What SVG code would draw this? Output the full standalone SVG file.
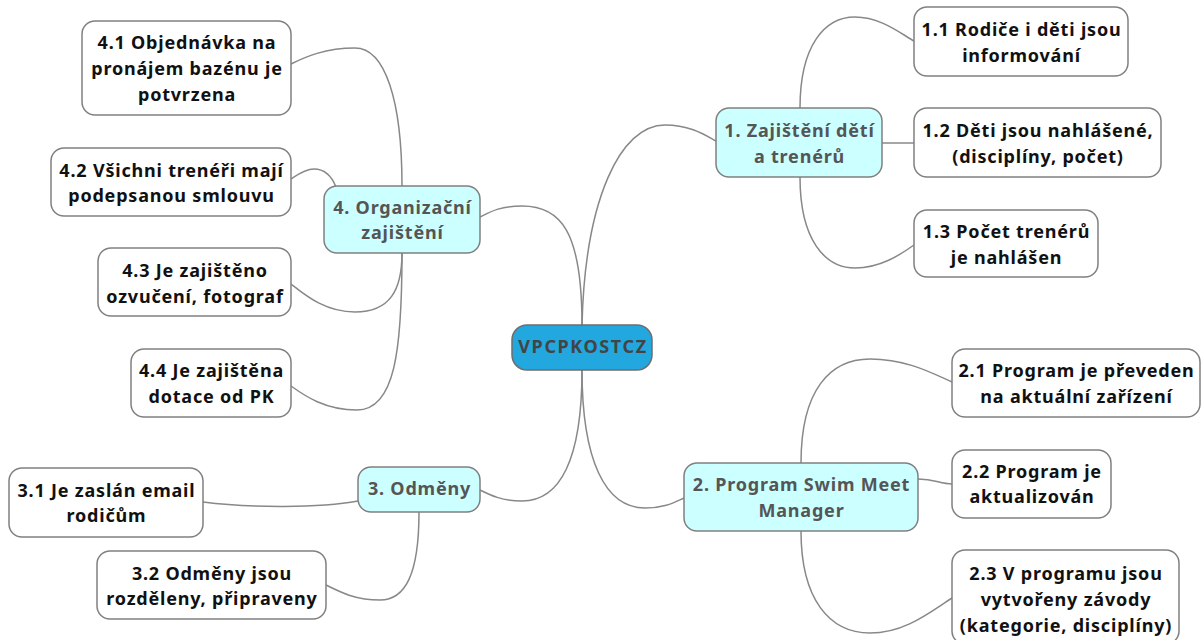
<svg xmlns="http://www.w3.org/2000/svg" width="1201" height="640" viewBox="0 0 1201 640">
<style>
.bg{fill:#ffffff}
.leaf rect{fill:#ffffff;stroke:#808080;stroke-width:1.5}
.branch rect{fill:#ccffff;stroke:#808080;stroke-width:1.5}
.root rect{fill:#22a7df;stroke:#6e6e6e;stroke-width:1.5}
text{font-family:"Noto Sans","Open Sans","DejaVu Sans",sans-serif;font-weight:bold;font-size:18px;letter-spacing:0.8px;text-anchor:middle}
.leaf text{fill:#111111}
.branch text{fill:#555555}
.root text{fill:#444444;letter-spacing:1.6px}
#connectors path{fill:none;stroke:#888888;stroke-width:1.5}
</style>
<rect class="bg" x="0" y="0" width="1201" height="640"/>
<g id="connectors">
<path d="M582,325 C582,230 560,206 522,206 C500,206 490,212 480,217"/>
<path d="M582,325 C585,200 620,125 665,125 C690,125 705,135 716,141"/>
<path d="M582,370 C582,460 560,501 522,501 C502,501 490,495 480,490"/>
<path d="M582,370 C582,460 605,508 645,508 C665,508 675,502 684,498"/>
<path d="M800,108 C800,45 825,17 855,17 C880,17 900,33 914,41"/>
<path d="M882,143 L914,143"/>
<path d="M800,177 C800,240 825,268 855,268 C880,268 900,255 914,245"/>
<path d="M801,463 C801,390 830,359 870,359 C905,359 930,372 952,382"/>
<path d="M918,479 C935,479 940,484 952,484"/>
<path d="M801,531 C801,600 830,633 870,633 C905,633 930,612 952,598"/>
<path d="M358,501 C320,508 250,508 203,502"/>
<path d="M419,512 C419,575 405,600 380,600 C355,600 340,592 326,585"/>
<path d="M402,186 C402,100 385,48 355,48 C325,48 305,57 291,64"/>
<path d="M336,187 C330,172 322,169 314,169 C305,169 297,175 291,179"/>
<path d="M402,253 C402,290 390,312 355,312 C325,312 305,295 291,284"/>
<path d="M402,253 C402,350 395,410 357,410 C325,410 305,396 291,386"/>
</g>
<g id="root" class="root"><rect x="512" y="325" width="140" height="45" rx="15"/><text x="583" y="353">VPCPKOSTCZ</text></g>
<g id="n1" class="branch"><rect x="716" y="108" width="166" height="69" rx="13"/><text x="799.5" y="137">1. Zajištění dětí</text><text x="799.5" y="163">a trenérů</text></g>
<g id="n11" class="leaf"><rect x="914" y="7" width="214" height="69" rx="13"/><text x="1021.5" y="36">1.1 Rodiče i děti jsou</text><text x="1021.5" y="62">informování</text></g>
<g id="n12" class="leaf"><rect x="914" y="108" width="247" height="69" rx="13"/><text x="1038" y="137">1.2 Děti jsou nahlášené,</text><text x="1038" y="163">(disciplíny, počet)</text></g>
<g id="n13" class="leaf"><rect x="914" y="210" width="184" height="67" rx="13"/><text x="1006.5" y="238">1.3 Počet trenérů</text><text x="1006.5" y="264">je nahlášen</text></g>
<g id="n2" class="branch"><rect x="684" y="463" width="234" height="68" rx="13"/><text x="801.5" y="491">2. Program Swim Meet</text><text x="801.5" y="517">Manager</text></g>
<g id="n21" class="leaf"><rect x="952" y="349" width="248" height="68" rx="13"/><text x="1076.5" y="377">2.1 Program je převeden</text><text x="1076.5" y="403">na aktuální zařízení</text></g>
<g id="n22" class="leaf"><rect x="952" y="450" width="159" height="68" rx="13"/><text x="1032" y="478">2.2 Program je</text><text x="1032" y="503">aktualizován</text></g>
<g id="n23" class="leaf"><rect x="952" y="550" width="227" height="94" rx="13"/><text x="1066" y="580">2.3 V programu jsou</text><text x="1066" y="606">vytvořeny závody</text><text x="1066" y="632">(kategorie, disciplíny)</text></g>
<g id="n3" class="branch"><rect x="358" y="467" width="122" height="45" rx="13"/><text x="419.5" y="495">3. Odměny</text></g>
<g id="n31" class="leaf"><rect x="9" y="468" width="194" height="69" rx="13"/><text x="106.5" y="497">3.1 Je zaslán email</text><text x="106.5" y="522">rodičům</text></g>
<g id="n32" class="leaf"><rect x="97" y="551" width="229" height="68" rx="13"/><text x="212" y="580">3.2 Odměny jsou</text><text x="212" y="605">rozděleny, připraveny</text></g>
<g id="n4" class="branch"><rect x="324" y="186" width="156" height="67" rx="13"/><text x="402.5" y="214">4. Organizační</text><text x="402.5" y="239">zajištění</text></g>
<g id="n41" class="leaf"><rect x="82" y="21" width="209" height="94" rx="13"/><text x="187" y="49">4.1 Objednávka na</text><text x="187" y="75">pronájem bazénu je</text><text x="187" y="101">potvrzena</text></g>
<g id="n42" class="leaf"><rect x="51" y="148" width="240" height="68" rx="13"/><text x="171.5" y="177">4.2 Všichni trenéři mají</text><text x="171.5" y="202">podepsanou smlouvu</text></g>
<g id="n43" class="leaf"><rect x="98" y="248" width="193" height="68" rx="13"/><text x="195" y="277">4.3 Je zajištěno</text><text x="195" y="303">ozvučení, fotograf</text></g>
<g id="n44" class="leaf"><rect x="131" y="349" width="160" height="68" rx="13"/><text x="211.5" y="377">4.4 Je zajištěna</text><text x="211.5" y="403">dotace od PK</text></g>
</svg>
